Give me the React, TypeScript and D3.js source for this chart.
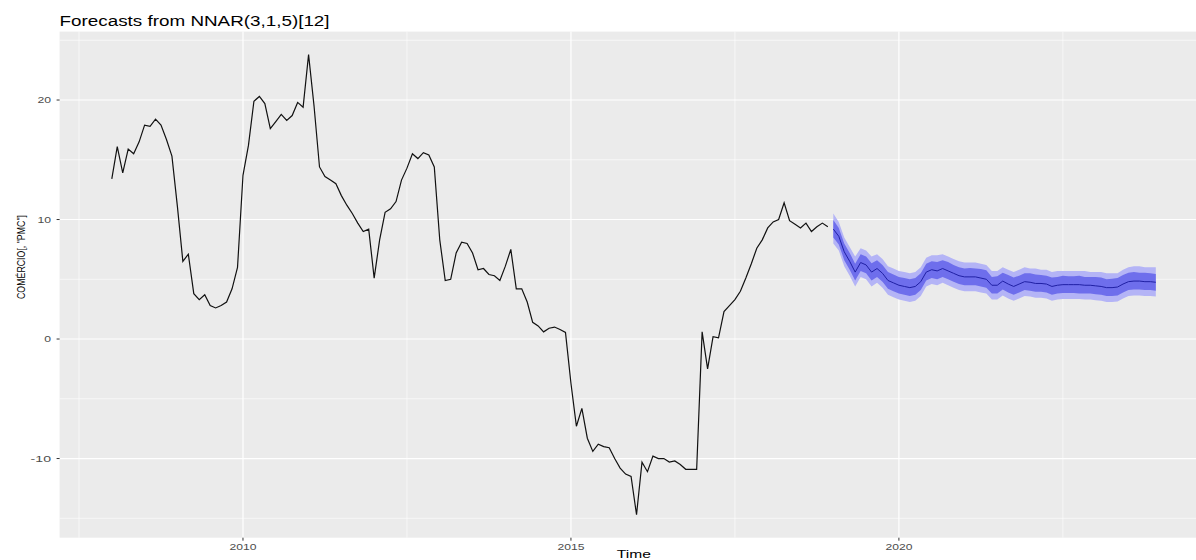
import React, { useMemo } from 'react';
import * as d3 from 'd3';

// monthly series, Jan 2008 .. Dec 2018
const startYear = 2008;
const pmc = [
    13.4, 16.1, 13.9, 15.9, 15.5, 16.5, 17.9, 17.8, 18.4, 17.9, 16.7, 15.3,
    11.1, 6.5, 7.1, 3.8, 3.3, 3.7, 2.8, 2.6, 2.8, 3.1, 4.2, 6.0,
    13.7, 16.2, 19.9, 20.3, 19.7, 17.6, 18.2, 18.8, 18.3, 18.7, 19.8, 19.4,
    23.8, 19.5, 14.4, 13.6, 13.3, 13.0, 12.0, 11.2, 10.5, 9.7, 9.0, 9.2,
    5.1, 8.3, 10.6, 10.9, 11.5, 13.3, 14.3, 15.5, 15.1, 15.6, 15.4, 14.4,
    8.3, 4.9, 5.0, 7.2, 8.1, 8.0, 7.2, 5.8, 5.9, 5.4, 5.3, 4.9,
    6.1, 7.5, 4.2, 4.2, 3.1, 1.4, 1.1, 0.6, 0.9, 1.0, 0.8, 0.55,
    -3.7, -7.3, -5.8, -8.3, -9.4, -8.8, -9.0, -9.1, -10.0, -10.8, -11.3, -11.5,
    -14.7, -10.3, -11.1, -9.8, -10.0, -10.0, -10.3, -10.2, -10.5, -10.9, -10.9, -10.9,
    0.6, -2.5, 0.2, 0.1, 2.3, 2.8, 3.3, 4.0, 5.1, 6.3, 7.6, 8.3,
    9.3, 9.8, 10.0, 11.4, 9.9, 9.6, 9.3, 9.7, 9.0, 9.4, 9.7, 9.4,
];

// forecast, Jan 2019 .. Dec 2023
const fcStartYear = 2019;
const fcMean = [
    9.2, 8.6, 7.3, 6.5, 5.6, 6.4, 6.2, 5.6, 5.9, 5.5, 4.9, 4.7,
    4.5, 4.4, 4.3, 4.4, 4.8, 5.6, 5.8, 5.7, 5.9, 5.7, 5.5, 5.3,
    5.2, 5.2, 5.2, 5.1, 5.0, 4.5, 4.5, 4.85, 4.6, 4.4, 4.6, 4.8,
    4.75, 4.65, 4.65, 4.6, 4.4, 4.5, 4.55, 4.55, 4.55, 4.55, 4.5, 4.5,
    4.45, 4.4, 4.3, 4.3, 4.35, 4.6, 4.8, 4.85, 4.85, 4.8, 4.8, 4.75,
];
const fcHi95 = [
    10.5, 9.8, 8.5, 7.7, 6.9, 7.6, 7.4, 6.9, 7.1, 6.7, 6.1, 5.9,
    5.7, 5.6, 5.5, 5.6, 6.0, 6.8, 7.0, 7.0, 7.1, 6.9, 6.7, 6.5,
    6.4, 6.4, 6.4, 6.3, 6.2, 5.7, 5.7, 6.0, 5.8, 5.6, 5.8, 6.0,
    5.9, 5.9, 5.8, 5.8, 5.6, 5.7, 5.7, 5.7, 5.7, 5.7, 5.7, 5.6,
    5.6, 5.6, 5.5, 5.5, 5.5, 5.8, 6.0, 6.1, 6.1, 6.0, 6.0, 6.0,
];
const fcHi80 = [
    9.95, 9.3, 8.0, 7.2, 6.3, 7.1, 6.9, 6.35, 6.6, 6.2, 5.6, 5.4,
    5.2, 5.1, 5.0, 5.1, 5.5, 6.3, 6.5, 6.45, 6.6, 6.45, 6.2, 6.0,
    5.9, 5.95, 5.9, 5.85, 5.75, 5.2, 5.25, 5.55, 5.35, 5.15, 5.3, 5.5,
    5.5, 5.4, 5.35, 5.3, 5.15, 5.2, 5.3, 5.25, 5.25, 5.3, 5.2, 5.2,
    5.2, 5.15, 5.0, 5.05, 5.1, 5.35, 5.55, 5.6, 5.55, 5.55, 5.5, 5.45,
];
const fcLo80 = [
    8.5, 7.9, 6.6, 5.8, 4.9, 5.7, 5.5, 4.9, 5.2, 4.8, 4.2, 4.0,
    3.8, 3.7, 3.6, 3.7, 4.1, 4.9, 5.1, 5.0, 5.2, 5.0, 4.8, 4.6,
    4.5, 4.5, 4.5, 4.4, 4.3, 3.8, 3.8, 4.15, 3.9, 3.7, 3.9, 4.1,
    4.05, 3.95, 3.95, 3.9, 3.7, 3.8, 3.85, 3.85, 3.85, 3.8, 3.8, 3.8,
    3.75, 3.7, 3.6, 3.6, 3.65, 3.9, 4.1, 4.15, 4.15, 4.1, 4.1, 4.05,
];
const fcLo95 = [
    8.0, 7.4, 6.1, 5.3, 4.4, 5.2, 5.0, 4.4, 4.7, 4.3, 3.7, 3.5,
    3.3, 3.2, 3.1, 3.2, 3.6, 4.4, 4.6, 4.5, 4.7, 4.5, 4.3, 4.1,
    4.0, 4.0, 4.0, 3.9, 3.8, 3.3, 3.3, 3.65, 3.4, 3.2, 3.4, 3.6,
    3.55, 3.45, 3.45, 3.4, 3.2, 3.3, 3.35, 3.35, 3.35, 3.35, 3.3, 3.3,
    3.25, 3.2, 3.1, 3.1, 3.15, 3.4, 3.6, 3.65, 3.65, 3.6, 3.6, 3.55,
];

const xBreaks = [2010, 2015, 2020];
const xMinor = [2007.5, 2012.5, 2017.5, 2022.5];
const yBreaks = [-10, 0, 10, 20];
const yMinor = [-15, -5, 5, 15, 25];

const title = 'Forecasts from NNAR(3,1,5)[12]';
const xTitle = 'Time';
const yTitle = 'COMÉRCIO[, "PMC"]';

const W = 1196;
const H = 560;
const panel = { left: 59.6, right: 1208, top: 31.6, bottom: 537.7 };
const font = 'Liberation Sans, Arial, Helvetica, sans-serif';

type Pt = [number, number];

function expand([a, b]: [number, number]): [number, number] {
    const e = (b - a) * 0.05;
    return [a - e, b + e];
}

export default function App() {
    const hist: Pt[] = pmc.map((v, i) => [startYear + i / 12, v]);
    const fc = fcMean.map((v, i) => ({
        t: fcStartYear + i / 12, mean: v,
        lo80: fcLo80[i], hi80: fcHi80[i], lo95: fcLo95[i], hi95: fcHi95[i],
    }));

    const { x, y } = useMemo(() => {
        const tExt = d3.extent([...hist.map(d => d[0]), ...fc.map(d => d.t)]) as [number, number];
        const vExt = d3.extent([...pmc, ...fcLo95, ...fcHi95]) as [number, number];
        return {
            x: d3.scaleLinear().domain(expand(tExt)).range([panel.left, panel.right]),
            y: d3.scaleLinear().domain(expand(vExt)).range([panel.bottom, panel.top]),
        };
    }, []);

    const line = d3.line<Pt>().x(d => x(d[0])).y(d => y(d[1]));
    const band = (lo: 'lo80' | 'lo95', hi: 'hi80' | 'hi95') =>
        d3.area<typeof fc[number]>().x(d => x(d.t)).y0(d => y(d[lo])).y1(d => y(d[hi]))(fc) || '';
    const meanLine = line(fc.map(d => [d.t, d.mean] as Pt)) || '';

    return (
        <div style={{ position: 'fixed', left: 0, top: 0 }}>
            <svg width={W} height={H} style={{ display: 'block', background: '#fff' }}>
                <defs>
                    <clipPath id="panel">
                        <rect x={panel.left} y={panel.top} width={panel.right - panel.left} height={panel.bottom - panel.top} />
                    </clipPath>
                </defs>
                <rect x={panel.left} y={panel.top} width={panel.right - panel.left} height={panel.bottom - panel.top} fill="#EBEBEB" />
                {/* minor grid */}
                {xMinor.map(t => (
                    <line key={'xm' + t} x1={x(t)} x2={x(t)} y1={panel.top} y2={panel.bottom} stroke="#fff" strokeWidth={0.6} />
                ))}
                {yMinor.map(v => (
                    <line key={'ym' + v} x1={panel.left} x2={panel.right} y1={y(v)} y2={y(v)} stroke="#fff" strokeWidth={0.6} />
                ))}
                {/* major grid */}
                {xBreaks.map(t => (
                    <line key={'xg' + t} x1={x(t)} x2={x(t)} y1={panel.top} y2={panel.bottom} stroke="#fff" strokeWidth={1.2} />
                ))}
                {yBreaks.map(v => (
                    <line key={'yg' + v} x1={panel.left} x2={panel.right} y1={y(v)} y2={y(v)} stroke="#fff" strokeWidth={1.2} />
                ))}
                <g clipPath="url(#panel)">
                    <path d={line(hist) || ''} fill="none" stroke="#111" strokeWidth={1.2} />
                    <path d={band('lo95', 'hi95')} fill="#B4B4F6" stroke="none" />
                    <path d={band('lo80', 'hi80')} fill="#6E6EEC" stroke="none" />
                    <path d={meanLine} fill="none" stroke="#2020A4" strokeWidth={1} />
                </g>
                {/* axes */}
                {xBreaks.map(t => (
                    <g key={'xt' + t}>
                        <line x1={x(t)} x2={x(t)} y1={panel.bottom} y2={panel.bottom + 3} stroke="#333" strokeWidth={1} />
                        <text x={x(t)} y={550} textAnchor="middle" fontFamily={font} fontSize={9.5} fill="#4D4D4D"
                            textLength={27} lengthAdjust="spacingAndGlyphs">{t}</text>
                    </g>
                ))}
                {yBreaks.map(v => (
                    <g key={'yt' + v}>
                        <line x1={panel.left - 3} x2={panel.left} y1={y(v)} y2={y(v)} stroke="#333" strokeWidth={1} />
                        <text x={51} y={y(v) + 3.3} textAnchor="end" fontFamily={font} fontSize={9.5} fill="#4D4D4D"
                            textLength={String(v).length * 6.8} lengthAdjust="spacingAndGlyphs">{v}</text>
                    </g>
                ))}
                <text x={(panel.left + panel.right) / 2} y={557.5} textAnchor="middle" fontFamily={font} fontSize={11}
                    fill="#000" textLength={34} lengthAdjust="spacingAndGlyphs">{xTitle}</text>
                <text transform="translate(25,257) rotate(-90)" textAnchor="middle" fontFamily={font} fontSize={10.5}
                    fill="#000" textLength={84} lengthAdjust="spacingAndGlyphs">{yTitle}</text>
                <text x={panel.left} y={26} fontFamily={font} fontSize={14} fill="#000"
                    textLength={270} lengthAdjust="spacingAndGlyphs">{title}</text>
            </svg>
        </div>
    );
}
